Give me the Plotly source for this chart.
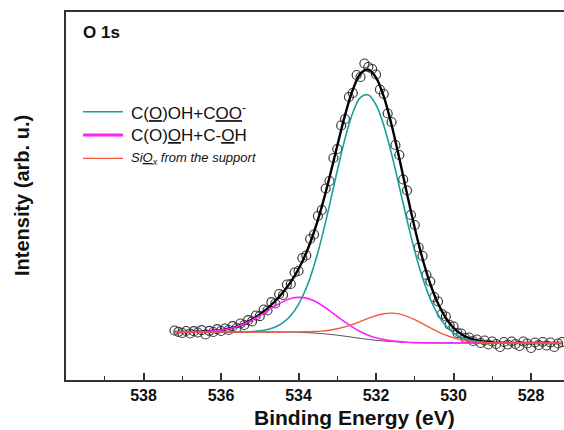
import plotly.graph_objects as go

# ---- data (binding energy in eV, intensity in arb. u.) ----
fit_energy = [537.2 - 0.2 * i for i in range(51)]
background = [48.0, 48.0, 48.0, 48.0, 48.0, 48.0, 48.0, 48.0, 48.0, 48.0,
              48.0, 48.0, 48.0, 48.0, 48.0, 47.9, 47.7, 47.4, 47.0, 46.4,
              45.7, 44.8, 43.8, 42.7, 41.6, 40.6, 39.7, 39.0, 38.5, 38.0,
              37.6, 37.3, 37.2, 37.1, 37.0, 37.0, 37.0, 37.0, 37.0, 37.0,
              37.0, 37.0, 37.0, 37.0, 37.0, 37.0, 37.0, 37.0, 37.0, 37.0, 37.0]
comp_cooh = [0.0, 0.0, 0.0, 0.0, 0.0, 0.0, 0.0, 0.0, 0.1, 0.2,
             0.5, 1.2, 2.5, 4.9, 9.3, 16.5, 28.0, 44.6, 67.3, 96.0,
             129.2, 164.4, 197.7, 224.6, 241.1, 244.5, 235.5, 215.6, 187.6, 155.3,
             122.2, 91.4, 65.0, 43.9, 28.2, 17.2, 10.0, 5.5, 2.9, 1.5,
             0.7, 0.3, 0.1, 0.0, 0.0, 0.0, 0.0, 0.0, 0.0, 0.0, 0.0]
comp_oh = [0.0, 0.0, 0.1, 0.3, 0.5, 1.1, 1.9, 3.3, 5.3, 8.2,
           11.9, 16.3, 21.2, 26.1, 30.4, 33.5, 34.9, 34.5, 32.2, 28.4,
           23.7, 18.7, 14.0, 9.9, 6.6, 4.2, 2.5, 1.4, 0.8, 0.4,
           0.2, 0.1, 0.0, 0.0, 0.0, 0.0, 0.0, 0.0, 0.0, 0.0,
           0.0, 0.0, 0.0, 0.0, 0.0, 0.0, 0.0, 0.0, 0.0, 0.0, 0.0]
comp_siox = [0.0, 0.0, 0.0, 0.0, 0.0, 0.0, 0.0, 0.0, 0.0, 0.0,
             0.0, 0.0, 0.0, 0.0, 0.1, 0.2, 0.4, 0.8, 1.5, 2.5,
             4.1, 6.4, 9.4, 13.0, 17.1, 21.1, 24.7, 27.3, 28.4, 28.1,
             26.1, 23.0, 19.1, 15.0, 11.2, 7.8, 5.2, 3.3, 1.9, 1.1,
             0.6, 0.3, 0.2, 0.1, 0.0, 0.0, 0.0, 0.0, 0.0, 0.0, 0.0]

data_energy = [round(537.2 - 0.1 * i, 1) for i in range(101)]
data_intensity = [49.5, 48.2, 47.0, 49.0, 46.5, 48.8, 47.5, 49.8, 45.5, 49.2,
                  48.0, 50.8, 49.0, 51.5, 50.0, 53.8, 52.0, 56.5, 55.0, 59.8,
                  58.6, 64.5, 63.8, 70.5, 69.5, 77.8, 76.5, 86.0, 85.0, 95.5,
                  96.0, 107.5, 109.0, 122.0, 124.5, 141.0, 145.5, 164.0, 170.0, 191.5,
                  199.0, 222.0, 231.0, 254.5, 261.0, 283.0, 287.0, 305.0, 303.0, 316.5,
                  313.0, 311.0, 305.5, 290.5, 286.0, 266.5, 258.0, 235.0, 225.0, 200.5,
                  189.5, 165.0, 155.0, 132.5, 124.0, 105.0, 98.5, 83.0, 78.5, 66.0,
                  63.5, 55.0, 53.5, 47.0, 46.5, 42.0, 42.5, 39.0, 40.5, 37.0,
                  39.5, 35.5, 38.5, 36.0, 33.0, 38.0, 35.5, 38.5, 36.0, 34.0,
                  38.5, 36.5, 32.0, 37.5, 35.0, 38.0, 34.5, 37.5, 33.0, 36.5, 38.0]

x_ticks = [538, 536, 534, 532, 530, 528]

# ---- derived curves (components sit on the background) ----
cooh_line = [b + c for b, c in zip(background, comp_cooh)]
oh_line = [b + c for b, c in zip(background, comp_oh)]
siox_line = [b + c for b, c in zip(background, comp_siox)]
envelope = [b + c1 + c2 + c3 for b, c1, c2, c3 in zip(background, comp_cooh, comp_oh, comp_siox)]

TEAL = "#17a09c"
MAGENTA = "#ff22ff"
RED = "#f4583a"

fig = go.Figure()
fig.add_trace(go.Scatter(x=data_energy, y=data_intensity, mode="markers",
                         marker=dict(symbol="circle-open", size=9, color="#3a3a3a",
                                     line=dict(width=1.2)), showlegend=False))
fig.add_trace(go.Scatter(x=fit_energy, y=background, mode="lines", line_shape="spline",
                         line=dict(color="#555555", width=1), showlegend=False))
fig.add_trace(go.Scatter(x=fit_energy, y=envelope, mode="lines", line_shape="spline",
                         line=dict(color="#000000", width=2.4), showlegend=False))
fig.add_trace(go.Scatter(x=fit_energy, y=cooh_line, mode="lines", line_shape="spline",
                         line=dict(color=TEAL, width=1.6), showlegend=False))
fig.add_trace(go.Scatter(x=fit_energy, y=oh_line, mode="lines", line_shape="spline",
                         line=dict(color=MAGENTA, width=1.6), showlegend=False))
fig.add_trace(go.Scatter(x=fit_energy, y=siox_line, mode="lines", line_shape="spline",
                         line=dict(color=RED, width=1.4), showlegend=False))

# plot area in pixels: left 66, right 564, top 12, bottom 380
W, H = 564, 430
L, R, T, B = 66, 0, 12, 50
pw, ph = W - L - R, H - T - B


def px(x):
    return (x - L) / pw


def py(y):
    return (H - B - y) / ph


FONT = "Liberation Sans, Arial, sans-serif"

# legend drawn manually
legend_rows = [
    (111.7, TEAL, 1.5, "C(<u>O</u>)OH+C<u>OO</u><sup>-</sup>", 17, False),
    (135.0, MAGENTA, 3.0, "C(O)<u>O</u>H+C-<u>O</u>H", 17, False),
    (158.3, RED, 1.2, "<i>Si<u>O</u><sub>x</sub> from the support</i>", 13, True),
]
shapes = []
annotations = []
for yy, col, lw, txt, fs, it in legend_rows:
    shapes.append(dict(type="line", xref="paper", yref="paper",
                       x0=px(83), x1=px(123), y0=py(yy), y1=py(yy),
                       line=dict(color=col, width=lw)))
    annotations.append(dict(xref="paper", yref="paper", x=px(129), y=py(yy),
                            xanchor="left", yanchor="middle", showarrow=False,
                            text=txt, font=dict(family=FONT, size=fs, color="#111111")))

annotations.append(dict(xref="paper", yref="paper", x=px(81), y=py(33),
                        xanchor="left", yanchor="middle", showarrow=False,
                        text="<b>O 1s</b>", font=dict(family=FONT, size=17, color="#111111")))
annotations.append(dict(xref="paper", yref="paper", x=px(354), y=py(417),
                        xanchor="center", yanchor="middle", showarrow=False,
                        text="<b>Binding Energy (eV)</b>",
                        font=dict(family=FONT, size=21, color="#111111")))
annotations.append(dict(xref="paper", yref="paper", x=px(22), y=py(196),
                        xanchor="center", yanchor="middle", showarrow=False, textangle=-90,
                        text="<b>Intensity (arb. u.)</b>",
                        font=dict(family=FONT, size=20, color="#111111")))

fig.update_layout(
    width=W, height=H,
    margin=dict(l=L, r=R, t=T, b=B),
    paper_bgcolor="white", plot_bgcolor="white",
    showlegend=False,
    shapes=shapes, annotations=annotations,
    xaxis=dict(range=[540.0, 527.15], tickvals=x_ticks, ticktext=[str(v) for v in x_ticks],
               ticks="inside", ticklen=7, tickwidth=1.5, tickcolor="#333333",
               minor=dict(dtick=1, tick0=528, ticks="inside", ticklen=4, tickwidth=1.2,
                          tickcolor="#333333", showgrid=False),
               showline=True, linecolor="#333333", linewidth=2, mirror=True,
               showgrid=False, zeroline=False,
               tickfont=dict(family=FONT, size=16, color="#111111", weight="bold")),
    yaxis=dict(range=[0, 368], showticklabels=False, ticks="",
               showline=True, linecolor="#333333", linewidth=2, mirror=False,
               showgrid=False, zeroline=False),
)

fig.write_html("out.html")
